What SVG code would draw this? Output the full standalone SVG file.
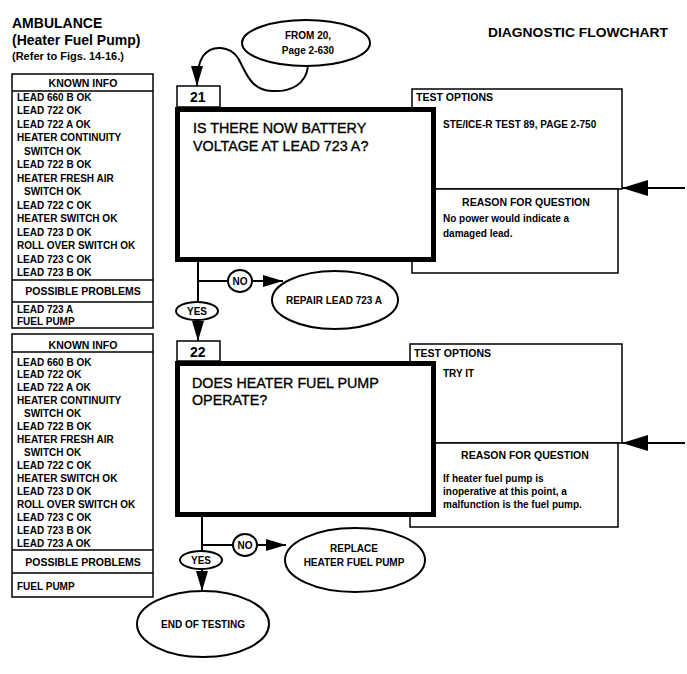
<svg xmlns="http://www.w3.org/2000/svg" width="687" height="674" viewBox="0 0 687 674">
<style>
text{font-family:"Liberation Sans",Arial,sans-serif;fill:#000}
.b{font-weight:bold}
.t14{font-size:14px;font-weight:bold}
.s{font-size:10px;font-weight:bold}
.h{font-size:10.5px;font-weight:bold}
.q{font-size:14.3px;stroke:#000;stroke-width:0.35}
.c{text-anchor:middle}
.thin{fill:#fff;stroke:#000;stroke-width:1.5}
.thick{fill:#fff;stroke:#000;stroke-width:5}
.ln{fill:none;stroke:#000;stroke-width:2}
.ov{fill:#fff;stroke:#000;stroke-width:2}
</style>
<defs>
<marker id="arr" markerUnits="userSpaceOnUse" markerWidth="20" markerHeight="12" refX="20" refY="6" orient="auto"><path d="M0,0 L20,6 L0,12 z" fill="#000"/></marker>
<marker id="big" markerUnits="userSpaceOnUse" markerWidth="26" markerHeight="16" refX="26" refY="8" orient="auto"><path d="M0,0 L26,8 L0,16 z" fill="#000"/></marker>
</defs>

<g id="title">
<text class="t14" x="12" y="28">AMBULANCE</text>
<text class="t14" x="12" y="45">(Heater Fuel Pump)</text>
<text class="b" font-size="11" x="12" y="60">(Refer to Figs. 14-16.)</text>
<text class="b" font-size="13.3" x="488" y="37" textLength="180" lengthAdjust="spacingAndGlyphs">DIAGNOSTIC FLOWCHART</text>
</g>

<g id="info1">
<rect class="thin" x="12" y="74" width="141" height="254"/>
<line class="thin" x1="12" y1="91" x2="153" y2="91"/>
<line class="thin" x1="12" y1="280" x2="153" y2="280"/>
<line class="thin" x1="12" y1="302" x2="153" y2="302"/>
<text class="h c" x="83" y="86.5">KNOWN INFO</text>
<text class="s" x="17" y="100.5">LEAD 660 B OK</text>
<text class="s" x="17" y="114">LEAD 722 OK</text>
<text class="s" x="17" y="127.5">LEAD 722 A OK</text>
<text class="s" x="17" y="141">HEATER CONTINUITY</text>
<text class="s" x="24" y="154.5">SWITCH OK</text>
<text class="s" x="17" y="168">LEAD 722 B OK</text>
<text class="s" x="17" y="181.5">HEATER FRESH AIR</text>
<text class="s" x="24" y="195">SWITCH OK</text>
<text class="s" x="17" y="208.5">LEAD 722 C OK</text>
<text class="s" x="17" y="222">HEATER SWITCH OK</text>
<text class="s" x="17" y="235.5">LEAD 723 D OK</text>
<text class="s" x="17" y="249">ROLL OVER SWITCH OK</text>
<text class="s" x="17" y="262.5">LEAD 723 C OK</text>
<text class="s" x="17" y="276">LEAD 723 B OK</text>
<text class="h c" x="83" y="295">POSSIBLE PROBLEMS</text>
<text class="s" x="17" y="313">LEAD 723 A</text>
<text class="s" x="17" y="324.5">FUEL PUMP</text>
</g>

<g id="info2">
<rect class="thin" x="12" y="334" width="141" height="263"/>
<line class="thin" x1="12" y1="352" x2="153" y2="352"/>
<line class="thin" x1="12" y1="550" x2="153" y2="550"/>
<line class="thin" x1="12" y1="573" x2="153" y2="573"/>
<text class="h c" x="83" y="348.5">KNOWN INFO</text>
<text class="s" x="17" y="365.5">LEAD 660 B OK</text>
<text class="s" x="17" y="378.4">LEAD 722 OK</text>
<text class="s" x="17" y="391.4">LEAD 722 A OK</text>
<text class="s" x="17" y="404.3">HEATER CONTINUITY</text>
<text class="s" x="24" y="417.2">SWITCH OK</text>
<text class="s" x="17" y="430.2">LEAD 722 B OK</text>
<text class="s" x="17" y="443.1">HEATER FRESH AIR</text>
<text class="s" x="24" y="456">SWITCH OK</text>
<text class="s" x="17" y="469">LEAD 722 C OK</text>
<text class="s" x="17" y="481.9">HEATER SWITCH OK</text>
<text class="s" x="17" y="494.8">LEAD 723 D OK</text>
<text class="s" x="17" y="507.8">ROLL OVER SWITCH OK</text>
<text class="s" x="17" y="520.7">LEAD 723 C OK</text>
<text class="s" x="17" y="533.6">LEAD 723 B  OK</text>
<text class="s" x="17" y="546.5">LEAD 723 A OK</text>
<text class="h c" x="83" y="565.5">POSSIBLE PROBLEMS</text>
<text class="s" x="17" y="589.5">FUEL PUMP</text>
</g>

<g id="from20">
<ellipse class="ov" cx="306" cy="43" rx="64" ry="23"/>
<text class="s c" x="308" y="39">FROM 20,</text>
<text class="s c" x="308" y="54">Page 2-630</text>
</g>

<g id="options21">
<path class="thin" d="M412,89 H622 V189 H412 Z"/>
<path class="thin" d="M412,189 H618 V273 H412 Z"/>
<text class="h" x="416" y="101">TEST OPTIONS</text>
<text class="s" x="443" y="128">STE/ICE-R TEST 89, PAGE 2-750</text>
<text class="h c" x="526" y="206">REASON FOR QUESTION</text>
<text class="s" x="443" y="222">No power would indicate a</text>
<text class="s" x="443" y="237">damaged lead.</text>
</g>

<g id="step21">
<rect class="thin" x="177" y="86" width="43" height="21"/>
<text class="t14" x="190" y="102">21</text>
<rect class="thick" x="177.5" y="109.5" width="256" height="150"/>
<text class="q" x="193" y="133">IS THERE NOW BATTERY</text>
<text class="q" x="193" y="151">VOLTAGE AT LEAD 723 A?</text>
</g>

<g id="no1">
<ellipse class="ov" cx="240" cy="281" rx="12" ry="11"/>
<text class="s c" x="240" y="285">NO</text>
</g>
<g id="yes1">
<ellipse class="ov" cx="197" cy="311" rx="21" ry="9"/>
<text class="s c" x="197" y="315">YES</text>
</g>
<g id="repair">
<ellipse class="ov" cx="335" cy="300" rx="63" ry="29"/>
<text class="s c" x="334" y="304">REPAIR LEAD 723 A</text>
</g>

<g id="options22">
<path class="thin" d="M410,344 H622 V443 H410 Z"/>
<path class="thin" d="M410,443 H618 V527 H410 Z"/>
<text class="h" x="414" y="357">TEST OPTIONS</text>
<text class="s" x="443" y="377">TRY IT</text>
<text class="h c" x="525" y="459">REASON FOR QUESTION</text>
<text class="s" x="443" y="482">If heater fuel pump is</text>
<text class="s" x="443" y="495">inoperative at this point, a</text>
<text class="s" x="443" y="508">malfunction is the fuel pump.</text>
</g>

<g id="step22">
<rect class="thin" x="177" y="341" width="43" height="20"/>
<text class="t14" x="190" y="357">22</text>
<rect class="thick" x="177.5" y="363.5" width="256" height="151"/>
<text class="q" x="192" y="388">DOES HEATER FUEL PUMP</text>
<text class="q" x="192" y="405">OPERATE?</text>
</g>

<g id="no2">
<ellipse class="ov" cx="245" cy="545" rx="12" ry="11"/>
<text class="s c" x="245" y="549">NO</text>
</g>
<g id="yes2">
<ellipse class="ov" cx="201" cy="560" rx="21" ry="9"/>
<text class="s c" x="201" y="564">YES</text>
</g>
<g id="replace">
<ellipse class="ov" cx="355" cy="560" rx="70" ry="32"/>
<text class="s c" x="354" y="552">REPLACE</text>
<text class="s c" x="354" y="566">HEATER FUEL PUMP</text>
</g>
<g id="end">
<ellipse class="ov" cx="203" cy="624" rx="66" ry="33"/>
<text class="s c" x="203" y="628">END OF TESTING</text>
</g>

<g id="connectors">
<path class="ln" d="M308,66 C306,85 290,92 272,91 C250,90 246,72 238,58 C230,46 212,44 203,56 C199,62 197,70 197,86" marker-end="url(#arr)"/>
<line class="ln" x1="198" y1="262" x2="198" y2="302"/>
<line class="ln" x1="198" y1="281" x2="228" y2="281"/>
<line class="ln" x1="252" y1="281" x2="283" y2="281" marker-end="url(#arr)"/>
<line class="ln" x1="198" y1="320" x2="198" y2="341" marker-end="url(#arr)"/>
<line class="ln" x1="685" y1="188" x2="622" y2="188" stroke-width="4" marker-end="url(#big)"/>
<line class="ln" x1="202" y1="517" x2="202" y2="551"/>
<line class="ln" x1="202" y1="545" x2="233" y2="545"/>
<line class="ln" x1="257" y1="545" x2="286" y2="545" marker-end="url(#arr)"/>
<line class="ln" x1="202" y1="569" x2="202" y2="591" marker-end="url(#arr)"/>
<line class="ln" x1="685" y1="443" x2="622" y2="443" stroke-width="4" marker-end="url(#big)"/>
</g>
</svg>
